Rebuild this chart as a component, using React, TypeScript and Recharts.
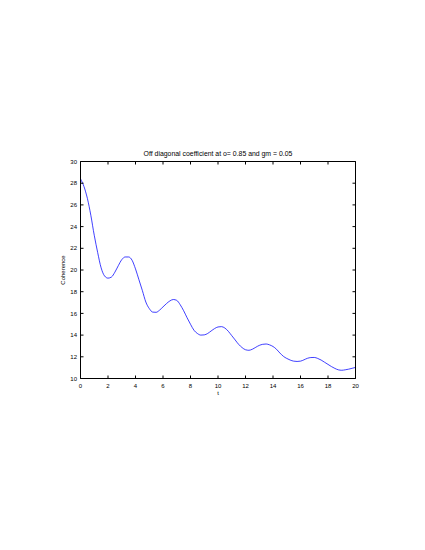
import { Label, Line, LineChart, XAxis, YAxis } from 'recharts';

const TITLE = 'Off diagonal coefficient at o= 0.85 and gm = 0.05';

// t values (every 0.25) and the coherence
const T_VALUES = [
  0, 0.25, 0.5, 0.75, 1, 1.25, 1.5, 1.75, 2, 2.25, 2.5, 2.75, 3, 3.25, 3.5, 3.75,
  4, 4.25, 4.5, 4.75, 5, 5.25, 5.5, 5.75, 6, 6.25, 6.5, 6.75, 7, 7.25, 7.5, 7.75,
  8, 8.25, 8.5, 8.75, 9, 9.25, 9.5, 9.75, 10, 10.25, 10.5, 10.75, 11, 11.25, 11.5, 11.75,
  12, 12.25, 12.5, 12.75, 13, 13.25, 13.5, 13.75, 14, 14.25, 14.5, 14.75, 15, 15.25, 15.5, 15.75,
  16, 16.25, 16.5, 16.75, 17, 17.25, 17.5, 17.75, 18, 18.25, 18.5, 18.75, 19, 19.25, 19.5, 19.75,
  20,
];

const COHERENCE = [
  28.4, 27.7, 26.6, 25.05, 23.2, 21.6, 20.2, 19.45, 19.25, 19.35, 19.8, 20.4, 20.95, 21.2, 21.2, 20.9,
  20.1, 19.1, 18.1, 17.05, 16.45, 16.12, 16.1, 16.3, 16.6, 16.9, 17.15, 17.28, 17.2, 16.8, 16.25, 15.6,
  15.0, 14.45, 14.15, 14.0, 14.02, 14.15, 14.38, 14.6, 14.75, 14.78, 14.65, 14.35, 13.95, 13.55, 13.15, 12.85,
  12.65, 12.6, 12.7, 12.88, 13.05, 13.15, 13.18, 13.1, 12.95, 12.7, 12.35, 12.05, 11.85, 11.7, 11.6, 11.57,
  11.6, 11.72, 11.86, 11.93, 11.94, 11.85, 11.7, 11.5, 11.3, 11.1, 10.93, 10.8, 10.76, 10.8, 10.86, 10.94,
  11.02,
];

const X_TICKS = [0, 2, 4, 6, 8, 10, 12, 14, 16, 18, 20];
const Y_TICKS = [10, 12, 14, 16, 18, 20, 22, 24, 26, 28, 30];

const FONT = '"Liberation Sans", Arial, Helvetica, sans-serif';
const textStyle = { fontSize: 6, fill: '#000', fontFamily: FONT };
const noLabel = () => '';

export default function App() {
  const data = T_VALUES.map((t, i) => ({ t, coherence: COHERENCE[i] }));

  return (
    <div style={{ position: 'absolute', left: 0, top: 0, width: 425, height: 550, background: '#fff' }}>
      <LineChart
        width={425}
        height={550}
        data={data}
        margin={{ top: 160.5, right: 68.5, bottom: 143.5, left: 44.5 }}
      >
        <XAxis
          dataKey="t"
          type="number"
          domain={[0, 20]}
          ticks={X_TICKS}
          allowDataOverflow
          height={28}
          tickSize={-3}
          tickMargin={8}
          tick={textStyle}
          stroke="#000"
        >
          <Label value="t" position="center" style={textStyle} />
        </XAxis>
        {/* box: top axis carries the title, right axis only tick marks */}
        <XAxis
          xAxisId="top"
          dataKey="t"
          orientation="top"
          type="number"
          domain={[0, 20]}
          ticks={X_TICKS}
          allowDataOverflow
          height={1}
          tickSize={-3}
          tickFormatter={noLabel}
          stroke="#000"
        >
          <Label value={TITLE} position="top" offset={4.5} style={{ ...textStyle, fontSize: 6.9 }} />
        </XAxis>
        <YAxis
          type="number"
          domain={[10, 30]}
          ticks={Y_TICKS}
          allowDataOverflow
          width={36}
          tickSize={-3}
          tickMargin={6.5}
          tick={textStyle}
          stroke="#000"
        >
          <Label
            value="Coherence"
            position="center"
            angle={-90}
            style={{ ...textStyle, textAnchor: 'middle' }}
          />
        </YAxis>
        <YAxis
          yAxisId="right"
          orientation="right"
          type="number"
          domain={[10, 30]}
          ticks={Y_TICKS}
          allowDataOverflow
          width={1}
          tickSize={-3}
          tickFormatter={noLabel}
          stroke="#000"
        />
        <Line
          dataKey="coherence"
          type="monotone"
          stroke="#0000ff"
          strokeWidth={0.75}
          dot={false}
          isAnimationActive={false}
        />
      </LineChart>
    </div>
  );
}
